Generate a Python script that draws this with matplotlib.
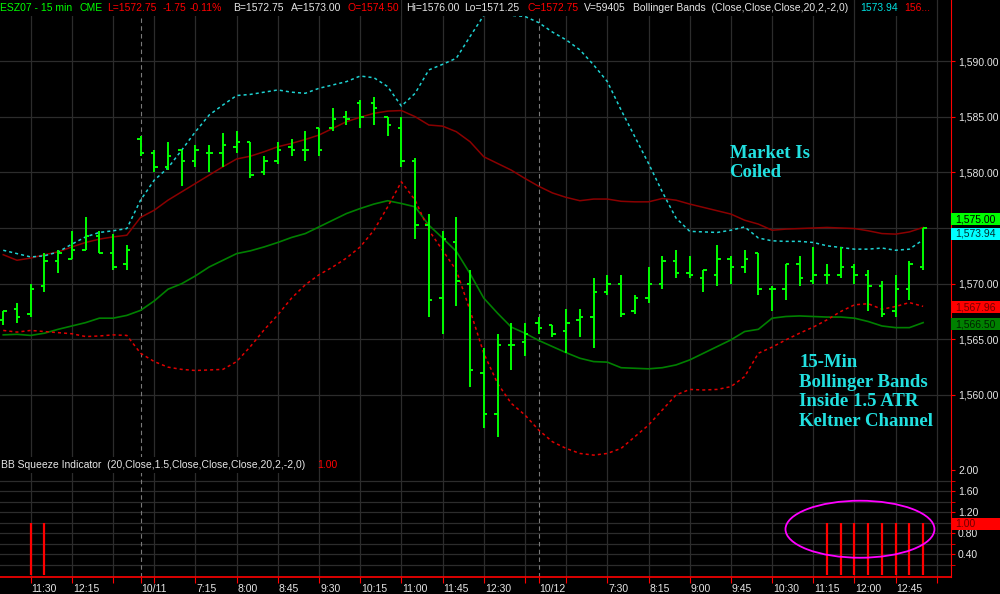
import numpy as np
import matplotlib.pyplot as plt
import matplotlib.transforms as mtransforms
from matplotlib.patches import Ellipse, Rectangle
from matplotlib.ticker import FuncFormatter

plt.rcParams['font.family'] = ['Liberation Sans', 'DejaVu Sans']

# ESZ07 15-min bars, three sessions (bar index 0..67)
opens = [1566.75, 1567.75, 1567.25, 1569.75, 1572.0, 1572.25, 1573.0, 1574.25, 1572.75, 1571.75,
         1583.0, 1581.75, 1580.5, 1582.0, 1581.0, 1581.75, 1581.75, 1582.25, 1582.75, 1580.0,
         1581.0, 1582.25, 1582.0, 1584.0, 1584.0, 1585.0, 1586.25, 1586.25, 1585.0, 1584.0,
         1581.0, 1575.25, 1568.75, 1573.75, 1570.0, 1562.0, 1558.25, 1564.5, 1564.75,
         1566.5, 1566.25, 1565.75, 1566.75, 1567.0, 1569.25, 1570.0, 1567.5, 1568.75, 1570.0,
         1572.0, 1571.0, 1570.5, 1570.75, 1572.25, 1571.5, 1572.75, 1569.5, 1569.5, 1571.75,
         1570.25, 1570.75, 1570.75, 1571.5, 1570.75, 1569.75, 1567.5, 1569.5, 1571.5]
highs = [1567.5, 1568.25, 1570.0, 1572.75, 1573.0, 1574.75, 1576.0, 1574.75, 1574.5, 1573.5,
         1583.25, 1582.0, 1582.75, 1582.0, 1582.5, 1582.5, 1583.5, 1583.75, 1582.75, 1581.5,
         1582.75, 1583.0, 1583.75, 1584.0, 1585.75, 1585.5, 1586.5, 1586.75, 1585.0, 1585.0,
         1581.25, 1576.25, 1574.75, 1576.0, 1571.25, 1564.25, 1565.5, 1566.5, 1566.5,
         1567.0, 1566.25, 1567.75, 1567.75, 1570.5, 1570.75, 1570.75, 1569.0, 1571.5, 1572.5,
         1573.0, 1572.5, 1571.25, 1573.5, 1572.5, 1573.0, 1572.75, 1569.75, 1571.75, 1572.5,
         1573.25, 1571.75, 1573.25, 1571.75, 1571.25, 1570.25, 1570.75, 1572.0, 1575.0]
lows = [1566.25, 1566.5, 1567.0, 1569.25, 1571.0, 1572.25, 1573.0, 1572.75, 1571.25, 1571.25,
        1581.5, 1580.0, 1580.25, 1578.75, 1580.5, 1580.0, 1580.5, 1581.75, 1579.5, 1579.75,
        1580.75, 1581.5, 1581.0, 1581.5, 1583.75, 1584.25, 1584.0, 1584.25, 1583.25, 1580.5,
        1574.0, 1567.0, 1565.5, 1568.0, 1560.75, 1557.0, 1556.25, 1562.25, 1563.5,
        1565.5, 1565.25, 1563.75, 1565.25, 1564.25, 1569.0, 1567.0, 1567.25, 1568.25, 1569.5,
        1570.5, 1570.5, 1569.25, 1569.75, 1570.0, 1571.0, 1569.0, 1567.5, 1568.5, 1569.75,
        1570.0, 1570.0, 1570.5, 1570.0, 1567.5, 1567.0, 1567.0, 1568.5, 1571.25]
closes = [1567.5, 1567.0, 1569.5, 1572.0, 1572.75, 1573.0, 1574.25, 1572.75, 1571.5, 1573.0,
          1581.75, 1580.5, 1581.5, 1581.0, 1582.0, 1581.75, 1582.5, 1582.75, 1579.75, 1581.0,
          1582.0, 1582.0, 1582.0, 1582.0, 1584.75, 1584.75, 1585.0, 1585.75, 1584.25, 1581.0,
          1575.25, 1568.5, 1574.0, 1570.25, 1562.25, 1558.25, 1564.5, 1564.5, 1565.5,
          1566.0, 1565.5, 1566.5, 1567.0, 1569.25, 1570.0, 1567.25, 1568.75, 1570.0, 1572.0,
          1571.0, 1570.75, 1571.25, 1572.25, 1571.5, 1572.25, 1569.5, 1569.5, 1571.75, 1570.5,
          1570.75, 1570.75, 1571.5, 1570.75, 1569.75, 1567.25, 1569.5, 1571.75, 1575.0]

bb_upper = [1573.0, 1572.7, 1572.4, 1572.5, 1572.85, 1573.55, 1574.2, 1574.6, 1574.75, 1574.95,
            1577.5, 1579.3, 1580.4, 1582.0, 1583.65, 1585.15, 1586.05, 1586.9, 1587.0, 1587.2,
            1587.4, 1587.2, 1587.1, 1587.55, 1587.85, 1588.15, 1588.65, 1588.5, 1587.7, 1585.95,
            1587.1, 1589.2, 1589.7, 1590.25, 1592.2, 1594.1, 1594.2, 1594.1, 1594.0,
            1593.45, 1592.6, 1591.9, 1591.0, 1589.65, 1588.15, 1585.6, 1583.2, 1580.8, 1578.25,
            1575.9, 1574.7, 1574.65, 1574.6, 1574.8, 1575.1, 1574.1, 1573.85, 1573.8, 1573.8,
            1573.7, 1573.4, 1573.25, 1573.1, 1573.1, 1573.2, 1573.0, 1573.1, 1573.94]
bb_lower = [1565.8, 1565.65, 1565.8, 1565.7, 1565.6, 1565.5, 1565.25, 1565.3, 1565.4, 1565.35,
            1563.75, 1563.0, 1562.5, 1562.3, 1562.2, 1562.25, 1562.3, 1563.0, 1564.35, 1565.85,
            1567.2, 1568.7, 1569.9, 1570.8, 1571.5, 1572.3, 1573.3, 1574.8, 1576.9, 1579.15,
            1577.5, 1574.8, 1573.0, 1571.2, 1567.6, 1563.75, 1561.05, 1559.25, 1558.2,
            1556.85, 1555.8, 1555.2, 1554.75, 1554.6, 1554.75, 1555.2, 1556.25, 1557.3, 1558.65,
            1560.0, 1560.5, 1560.45, 1560.5, 1560.75, 1561.65, 1563.75, 1564.3, 1564.95, 1565.55,
            1566.1, 1566.75, 1567.5, 1568.1, 1568.2, 1567.7, 1567.95, 1568.3, 1567.96]
kc_upper = [1572.6, 1572.1, 1572.3, 1572.6, 1572.85, 1573.3, 1573.7, 1574.0, 1574.2, 1574.35,
            1575.95, 1576.6, 1577.5, 1578.25, 1579.0, 1579.75, 1580.5, 1581.2, 1581.45, 1581.85,
            1582.3, 1582.6, 1582.95, 1583.35, 1583.95, 1584.55, 1584.95, 1585.3, 1585.5, 1585.55,
            1585.0, 1584.25, 1584.15, 1583.65, 1582.75, 1581.4, 1580.8, 1580.2, 1579.45,
            1578.75, 1578.15, 1577.75, 1577.45, 1577.6, 1577.6, 1577.4, 1577.35, 1577.35, 1577.65,
            1577.5, 1577.15, 1576.85, 1576.55, 1576.25, 1575.7, 1575.35, 1574.8, 1574.9, 1574.95,
            1575.0, 1575.05, 1575.0, 1574.95, 1574.75, 1574.5, 1574.45, 1574.65, 1575.05]
kc_lower = [1565.4, 1565.45, 1565.35, 1565.55, 1565.9, 1566.2, 1566.5, 1566.9, 1566.9, 1567.15,
            1567.6, 1568.45, 1569.5, 1570.0, 1570.7, 1571.5, 1572.1, 1572.7, 1572.95, 1573.3,
            1573.7, 1574.15, 1574.5, 1575.1, 1575.7, 1576.3, 1576.75, 1577.15, 1577.45, 1577.2,
            1576.9, 1575.25, 1574.1, 1572.9, 1570.9, 1568.7, 1567.35, 1566.1, 1565.55,
            1564.9, 1564.35, 1563.8, 1563.3, 1563.0, 1562.95, 1562.45, 1562.4, 1562.35, 1562.45,
            1562.7, 1563.15, 1563.75, 1564.35, 1564.95, 1565.7, 1565.9, 1566.9, 1567.05, 1567.1,
            1567.05, 1567.0, 1567.0, 1566.9, 1566.6, 1566.2, 1566.05, 1566.05, 1566.5]
squeeze = [0, 0, 1, 1, 0, 0, 0, 0, 0, 0,
           0, 0, 0, 0, 0, 0, 0, 0, 0, 0,
           0, 0, 0, 0, 0, 0, 0, 0, 0, 0,
           0, 0, 0, 0, 0, 0, 0, 0, 0,
           0, 0, 0, 0, 0, 0, 0, 0, 0, 0,
           0, 0, 0, 0, 0, 0, 0, 0, 0, 0,
           0, 1, 1, 1, 1, 1, 1, 1, 1]

tick_pos = [2, 5, 8, 10, 11, 14, 17, 20, 23, 26, 29, 32, 35, 38, 39, 41,
            44, 47, 50, 53, 56, 59, 62, 65, 68]
tick_labels = ['11:30', '12:15', '', '10/11', '', '7:15', '8:00', '8:45', '9:30', '10:15',
               '11:00', '11:45', '12:30', '', '10/12', '', '7:30', '8:15', '9:00', '9:45',
               '10:30', '11:15', '12:00', '12:45', '']
day_breaks = [10, 39]
grid_pos = [p for p in tick_pos if p not in day_breaks]

LIME = '#00FF00'
GRID = '#2c2c2c'
TXT = '#E6E6E6'

idx = np.arange(len(closes))

fig = plt.figure(figsize=(10, 5.94), dpi=100, facecolor='black')
ax = fig.add_axes([0, 1 - 458 / 594, 0.951, 458 / 594])
axl = fig.add_axes([0, 1 - 577 / 594, 0.951, 119 / 594], sharex=ax)

for a in (ax, axl):
    a.set_facecolor('black')
    for s in ('top', 'left', 'bottom'):
        a.spines[s].set_visible(False)
    a.spines['right'].set_color('red')
    a.yaxis.tick_right()
    a.tick_params(axis='y', colors='red', labelcolor=TXT, labelsize=7.5, length=3, pad=2)
    for p in grid_pos:
        a.axvline(p, color=GRID, lw=0.9, zorder=0)
    for p in day_breaks:
        a.axvline(p, color='#7a7a7a', lw=0.8, ls=(0, (4, 3)), zorder=0.5)

ax.set_xlim(-0.236, 69.03)
ax.set_ylim(1554.34, 1595.48)
price_ticks = [1560, 1565, 1570, 1575, 1580, 1585, 1590]
ax.set_yticks(price_ticks)
# the 1,575.00 tick label sits under the last-price box, so only the box shows it
ax.yaxis.set_major_formatter(FuncFormatter(lambda v, _: '' if abs(v - closes[-1]) < 1 else f'{v:,.2f}'))
for v in price_ticks:
    ax.axhline(v, color=GRID, lw=0.9, zorder=0)
ax.tick_params(axis='x', bottom=False, labelbottom=False)

# bands
ax.plot(idx, kc_upper, color='#8B0000', lw=1.1, zorder=2)
ax.plot(idx, kc_lower, color='#008000', lw=1.2, zorder=2)
ax.plot(idx, bb_upper, color='#1ED2D2', lw=1.1, ls=(0, (2, 2)), zorder=2)
ax.plot(idx, bb_lower, color='#E00000', lw=1.1, ls=(0, (2, 2)), zorder=2)

# OHLC bars
ax.vlines(idx, lows, highs, color=LIME, lw=1.4, zorder=3)
ax.hlines(opens, idx - 0.25, idx, color=LIME, lw=1.4, zorder=3)
ax.hlines(closes, idx, idx + 0.25, color=LIME, lw=1.4, zorder=3)

ax.text(52.9, 1580.84, 'Market Is\nCoiled', color='#22E0E0', fontsize=13.5,
        family='Liberation Serif', weight='bold', va='center', ha='left', linespacing=1.2)
ax.text(57.96, 1560.27, '15-Min\nBollinger Bands\nInside 1.5 ATR\nKeltner Channel',
        color='#22E0E0', fontsize=13.5, family='Liberation Serif', weight='bold',
        va='center', ha='left', linespacing=1.2)

# lower panel: squeeze indicator
axl.set_ylim(-0.038, 2.229)
sq = np.array(squeeze, dtype=float)
on = sq > 0
axl.vlines(idx[on], 0, sq[on], color='red', lw=1.6, zorder=3)
for v in [0.2, 0.4, 0.6, 0.8, 1.0, 1.2, 1.4, 1.6, 1.8]:
    axl.axhline(v, color=GRID, lw=0.9, zorder=0)
axl.set_yticks([0.4, 0.8, 1.2, 1.6, 2.0])
axl.set_yticks([0.2, 0.6, 1.0, 1.4, 1.8], minor=True)
axl.yaxis.set_major_formatter(FuncFormatter(lambda v, _: f'{v:.2f}'))
axl.tick_params(axis='y', which='minor', colors='red', length=3)
axl.spines['bottom'].set_visible(True)
axl.spines['bottom'].set_color('red')
axl.spines['bottom'].set_linewidth(1.2)
axl.set_xticks(tick_pos)
axl.set_xticklabels(tick_labels)
axl.tick_params(axis='x', colors='red', labelcolor=TXT, labelsize=7.5, length=4, pad=1)
shift = mtransforms.ScaledTranslation(1 / 100, 0, fig.dpi_scale_trans)
for lab in axl.get_xticklabels():
    lab.set_horizontalalignment('left')
    lab.set_transform(lab.get_transform() + shift)

axl.add_patch(Ellipse((62.4, 0.872), 10.85, 1.086, fill=False, edgecolor='#FF00FF',
                      lw=1.3, zorder=4))

# price marker boxes at the right edge
fig.canvas.draw()


def marker(a, value, text, fc, tc, dy, h=12):
    y = a.transData.transform((0, value))[1] + dy
    x0 = a.transAxes.transform((1, 0))[0]
    fig.patches.append(Rectangle((x0, y - h / 2), 1000 - x0, h, transform=mtransforms.IdentityTransform(),
                                 facecolor=fc, edgecolor='none', zorder=5, figure=fig))
    fig.text((x0 + 4) / 1000, y / 594, text, color=tc, fontsize=7.5, va='center', ha='left', zorder=6)


marker(ax, closes[-1], f'{closes[-1]:,.2f}', LIME, 'black', 8.5)
marker(ax, bb_upper[-1], f'{bb_upper[-1]:,.2f}', '#00FFFF', '#003030', 6)
marker(ax, bb_lower[-1], f'{bb_lower[-1]:,.2f}', '#FF0000', '#700000', -1)
marker(ax, kc_lower[-1], f'{kc_lower[-1]:,.2f}', '#008000', '#002000', -1.5)
marker(axl, squeeze[-1], f'{squeeze[-1]:.2f}', '#FF0000', '#700000', -1)

# header lines
header = [('ESZ07 - 15 min', 0, LIME), ('CME', 80, LIME), ('L=1572.75', 107, 'red'),
          ('-1.75', 163, 'red'), ('-0.11%', 190, 'red'), ('B=1572.75', 233, TXT),
          ('A=1573.00', 291, TXT), ('O=1574.50', 347, 'red'), ('Hi=1576.00', 406, TXT),
          ('Lo=1571.25', 464, TXT), ('C=1572.75', 527, 'red'), ('V=59405', 584, TXT),
          ('Bollinger Bands  (Close,Close,Close,20,2,-2,0)', 633, TXT),
          ('1573.94', 860, '#00E0E0'), ('156...', 904, 'red')]
for text, x, c in header:
    fig.text(x / 1000, 1 - 8 / 594, text, color=c, fontsize=7.5, va='center', ha='left',
             bbox=dict(boxstyle='square,pad=0.25', fc='black', ec='none'))
fig.text(1 / 1000, 1 - 465 / 594, 'BB Squeeze Indicator  (20,Close,1.5,Close,Close,Close,20,2,-2,0)',
         color=TXT, fontsize=7.5, va='center', ha='left',
         bbox=dict(boxstyle='square,pad=0.25', fc='black', ec='none'))
fig.text(317 / 1000, 1 - 465 / 594, '1.00', color='red', fontsize=7.5, va='center', ha='left')

fig.savefig('out.png', dpi=100, facecolor='black')
